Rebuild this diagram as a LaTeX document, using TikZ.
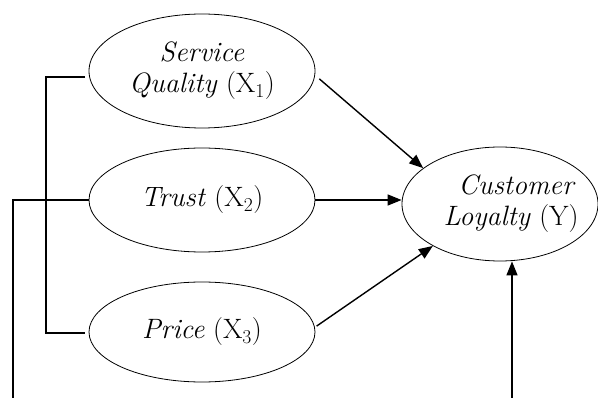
\documentclass[tikz,border=0pt]{standalone}
\usetikzlibrary{shapes.geometric,arrows.meta,calc}
\begin{document}
\begin{tikzpicture}[x=1pt,y=-1pt,
  construct/.style={draw, ellipse, line width=0.8pt, inner sep=0pt,
    minimum width=226pt, minimum height=114pt, align=center,
    font=\fontsize{28}{31}\selectfont},
  link/.style={line width=1.4pt},
  path/.style={line width=1.4pt, -{Triangle[length=14pt,width=11pt]}}]
\useasboundingbox (0,0) rectangle (598,398);

% exogenous constructs
\node[construct] (sq) at (202,71) {\textit{Service}\\\textit{Quality} (X\textsubscript{1})};
\node[construct, minimum height=104pt] (tr) at (202,200) {\textit{Trust} (X\textsubscript{2})};
\node[construct, minimum height=100pt] (pr) at (202,332) {\textit{Price} (X\textsubscript{3})};

% endogenous construct (text box kept inside the outline)
\node[construct, inner xsep=-30pt, inner ysep=-12pt,
      minimum width=196pt, minimum height=114pt] (cl) at (500,204)
  {\hspace*{34pt}\textit{Customer}\\\hspace*{22pt}\textit{Loyalty} (Y)};

% correlation brackets on the left
\coordinate (b1) at (85,77);
\coordinate (b2) at (85,333);
\coordinate (l0) at (13,398);
\draw[link] (b1) -- (46,77) -- (46,333) -- (b2);
\draw[link] (l0) |- (tr.west);

% structural paths
\draw[path] ($(sq.-4)+(5,0)$) -- (cl.155);
\draw[path] (tr.east) -- (tr.east -| cl.west);
\draw[path] ($(pr.3)+(2,0)$) -- (cl.212);

% incoming path from below
\coordinate (yb) at (512,398);
\draw[path] (yb) -- (yb |- cl.south);
\end{tikzpicture}
\end{document}
